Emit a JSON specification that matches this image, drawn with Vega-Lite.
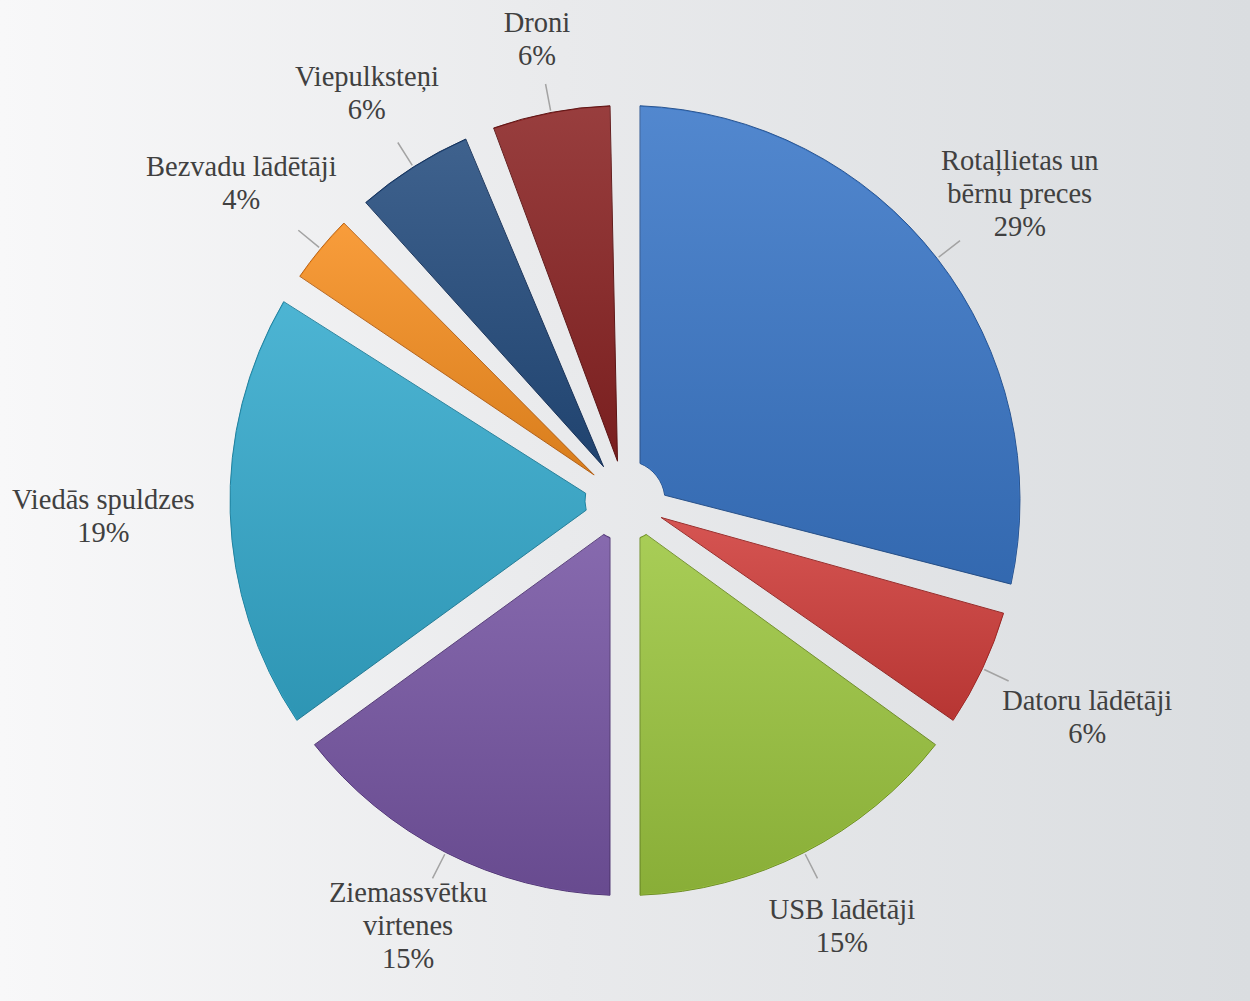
{
  "$schema": "https://vega.github.io/schema/vega-lite/v6.json",
  "width": 1250,
  "height": 1001,
  "autosize": {"type": "fit", "contains": "padding"},
  "padding": 0,
  "background": "#E3E5E8",
  "config": {"view": {"stroke": null}},
  "data": {
    "values": [
      {"nr": 1, "kategorija": "Rotaļlietas un bērnu preces", "procenti": 29},
      {"nr": 2, "kategorija": "Datoru lādētāji", "procenti": 6},
      {"nr": 3, "kategorija": "USB lādētāji", "procenti": 15},
      {"nr": 4, "kategorija": "Ziemassvētku virtenes", "procenti": 15},
      {"nr": 5, "kategorija": "Viedās spuldzes", "procenti": 19},
      {"nr": 6, "kategorija": "Bezvadu lādētāji", "procenti": 4},
      {"nr": 7, "kategorija": "Viepulksteņi", "procenti": 6},
      {"nr": 8, "kategorija": "Droni", "procenti": 6}
    ]
  },
  "layer": [
    {
      "data": {"values": [{}]},
      "mark": {
        "type": "rect",
        "fill": {
          "gradient": "linear", "x1": 0, "y1": 0.5, "x2": 1, "y2": 0.5,
          "stops": [
            {"offset": 0, "color": "#F8F8F9"},
            {"offset": 0.45, "color": "#E9EAEC"},
            {"offset": 1, "color": "#DADDE0"}
          ]
        }
      },
      "encoding": {}
    },
    {
      "mark": {"type": "arc", "radius": 395, "radius2": 40, "padAngle": 0.0756, "strokeWidth": 1},
      "encoding": {
        "theta": {"field": "procenti", "type": "quantitative", "stack": true},
        "order": {"field": "nr", "type": "quantitative"},
        "color": {
          "field": "kategorija", "type": "nominal", "legend": null,
          "scale": {
            "domain": ["Rotaļlietas un bērnu preces", "Datoru lādētāji", "USB lādētāji", "Ziemassvētku virtenes", "Viedās spuldzes", "Bezvadu lādētāji", "Viepulksteņi", "Droni"],
            "range": ["#3A77C8", "#D03D3A", "#9CC63F", "#7655A3", "#34AACD", "#F78F20", "#244C7E", "#8A2323"]
          }
        },
        "stroke": {
          "field": "kategorija", "type": "nominal", "legend": null,
          "scale": {
            "domain": ["Rotaļlietas un bērnu preces", "Datoru lādētāji", "USB lādētāji", "Ziemassvētku virtenes", "Viedās spuldzes", "Bezvadu lādētāji", "Viepulksteņi", "Droni"],
            "range": ["#2A5590", "#962826", "#6F8E27", "#523875", "#23809C", "#B8641A", "#17325A", "#5E1515"]
          }
        }
      }
    },
    {
      "mark": {
        "type": "arc", "radius": 394, "radius2": 41, "padAngle": 0.0756,
        "fill": {
          "gradient": "linear", "x1": 0, "y1": 0, "x2": 0, "y2": 1,
          "stops": [
            {"offset": 0, "color": "rgba(255,255,255,0.12)"},
            {"offset": 1, "color": "rgba(0,0,0,0.12)"}
          ]
        }
      },
      "encoding": {
        "theta": {"field": "procenti", "type": "quantitative", "stack": true},
        "order": {"field": "nr", "type": "quantitative"},
        "detail": {"field": "kategorija", "type": "nominal"}
      }
    },
    {
      "mark": {
        "type": "arc", "radius": 424, "radius2": 397, "padAngle": 3,
        "fill": "transparent", "stroke": "#A3A3A3", "strokeWidth": 1.5,
        "strokeOpacity": {"expr": "abs(cos(PI*(datum.procenti_start+datum.procenti_end)/100)) < 0.15 ? 0 : 1"}
      },
      "encoding": {
        "theta": {"field": "procenti", "type": "quantitative", "stack": true},
        "order": {"field": "nr", "type": "quantitative"},
        "detail": {"field": "kategorija", "type": "nominal"}
      }
    },
    {
      "transform": [
        {"calculate": "replace(replace(datum.kategorija, 'un ', 'un\\n'), 'Ziemassvētku ', 'Ziemassvētku\\n') + '\\n' + datum.procenti + '%'", "as": "etikete"}
      ],
      "mark": {
        "type": "text",
        "font": "Liberation Serif",
        "fontSize": 28.5,
        "lineHeight": 33,
        "lineBreak": "\n",
        "color": "#404040",
        "align": "center",
        "baseline": "middle",
        "dy": {"expr": "-(length(split(datum.etikete, '\\n')) - 1) * 16.5"},
        "radius": {"expr": "522*468/sqrt(pow(468*sin(PI*(datum.procenti_start+datum.procenti_end)/100),2)+pow(522*cos(PI*(datum.procenti_start+datum.procenti_end)/100),2))"}
      },
      "encoding": {
        "theta": {"field": "procenti", "type": "quantitative", "stack": true},
        "order": {"field": "nr", "type": "quantitative"},
        "detail": {"field": "kategorija", "type": "nominal"},
        "text": {"field": "etikete", "type": "nominal"}
      }
    }
  ]
}
